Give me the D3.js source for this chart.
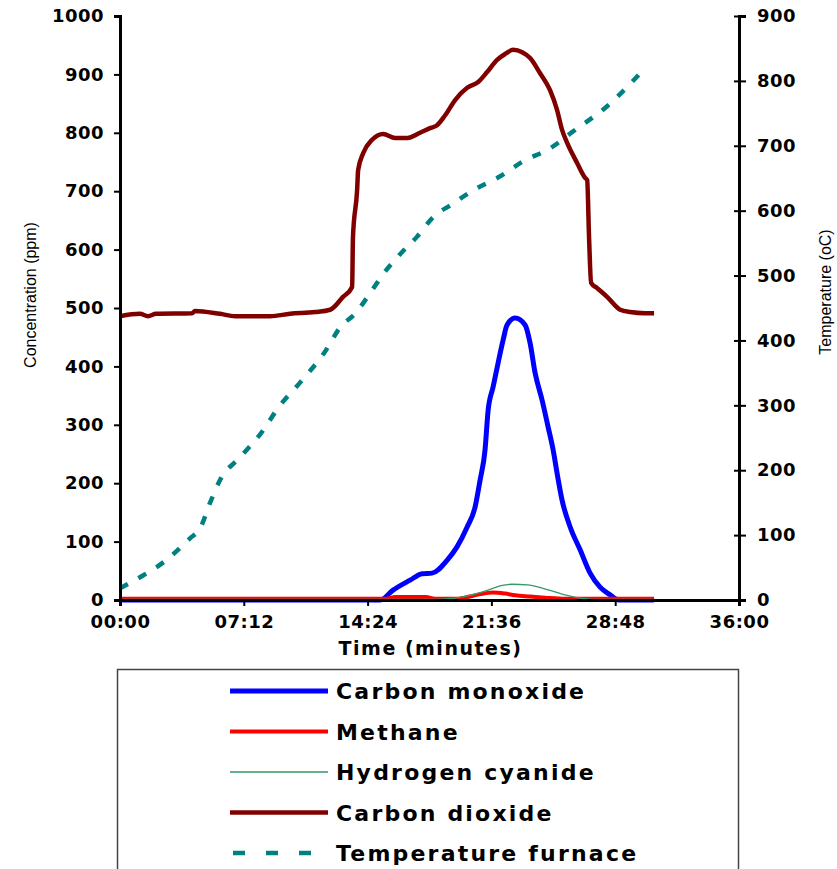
<!DOCTYPE html>
<html>
<head>
<meta charset="utf-8">
<script src="https://cdn.jsdelivr.net/npm/d3@7"></script>
<style>
  body { margin: 0; background: #fff; }
  svg { display: block; font-family: "Liberation Sans", Arial, sans-serif; }
</style>
</head>
<body>
<svg id="chart"></svg>
<script>
// ===== DATA (time in minutes) =====
const xTicks = [0, 7.2, 14.4, 21.6, 28.8, 36];
const leftTicks = [0, 100, 200, 300, 400, 500, 600, 700, 800, 900, 1000];
const rightTicks = [0, 100, 200, 300, 400, 500, 600, 700, 800, 900];

const seriesNames = ["Carbon monoxide", "Methane", "Hydrogen cyanide", "Carbon dioxide", "Temperature furnace"];

const coMinutes = [0, 15.13, 15.88, 16.87, 17.57, 18.15, 19.02, 19.6, 20.19, 20.65, 20.94, 21.23, 21.41, 21.7, 21.99, 22.28, 22.51, 22.98, 23.56, 23.85, 24.14, 24.55, 24.9, 25.19, 25.42, 25.71, 26.18, 26.76, 27.34, 27.92, 28.5, 29.0, 31.06];
const coPpm = [0, 0, 17, 34, 45, 46, 68, 91, 125, 159, 205, 257, 325, 365, 406, 445, 471, 483, 471, 440, 389, 342, 296, 257, 217, 171, 125, 86, 46, 22, 9, 0, 0];

const ch4Minutes = [0, 15.5, 16.0, 17.8, 18.3, 19.6, 20.36, 20.94, 21.7, 22.4, 22.98, 23.85, 24.72, 25.89, 31.06];
const ch4Ppm = [2, 2, 5, 5, 2, 2, 6, 10, 13, 11, 8, 6, 4, 2, 2];

const hcnMinutes = [0, 18.0, 19.4, 20.36, 21.41, 22.1, 22.8, 23.7, 24.6, 25.3, 26.0, 26.8, 27.6, 31.06];
const hcnPpm = [1, 1, 3, 8, 17, 24, 27, 26, 20, 14, 8, 3, 1, 1];

const co2Minutes = [0, 1.16, 1.63, 2.09, 4.19, 4.36, 5.82, 6.69, 8.73, 9.89, 11.34, 12.22, 12.97, 13.5, 13.55, 13.79, 13.85, 14.14, 14.66, 15.3, 16.0, 16.7, 17.45, 18.03, 18.44, 18.91, 19.49, 20.19, 20.83, 21.35, 21.93, 22.4, 22.86, 23.39, 23.85, 24.43, 25.01, 25.42, 25.71, 26.0, 26.59, 27.05, 27.17, 27.28, 27.4, 27.75, 28.33, 29.09, 29.67, 30.54, 31.06];
const co2Ppm = [486, 490, 486, 490, 491, 495, 490, 486, 486, 490, 493, 497, 519, 536, 622, 702, 736, 765, 788, 798, 791, 791, 800, 808, 813, 830, 856, 877, 887, 904, 925, 935, 942, 938, 928, 902, 873, 839, 805, 783, 748, 723, 719, 620, 543, 534, 519, 497, 493, 491, 491];

const tempMinutes = [0, 1.16, 2.62, 4.07, 4.65, 5.24, 5.82, 6.98, 8.14, 9.31, 10.47, 11.93, 12.8, 13.73, 14.37, 15.3, 16.29, 17.28, 18.21, 19.31, 20.65, 22.11, 23.44, 25.01, 26.29, 28.33, 30.54];
const tempC = [18, 35, 60, 95, 110, 150, 185, 220, 255, 300, 335, 383, 420, 443, 466, 502, 533, 560, 590, 610, 633, 653, 676, 696, 721, 761, 820];

function renderChart() {
  const width = 837;
  const height = 869;

  const svg = d3.select("#chart")
    .attr("width", width)
    .attr("height", height);

  const margin = { top: 16, right: 98, bottom: 269, left: 120 };
  const plotRight = width - margin.right;
  const plotBottom = height - margin.bottom;

  const xScale = d3.scaleLinear().domain([0, 36]).range([margin.left, plotRight]);
  const yLeft = d3.scaleLinear().domain([0, 1000]).range([plotBottom, margin.top]);
  const yRight = d3.scaleLinear().domain([0, 900]).range([plotBottom, margin.top]);

  const fmtTime = m => {
    const mm = Math.floor(m + 1e-6);
    const ss = Math.round((m - mm) * 60);
    return String(mm).padStart(2, "0") + ":" + String(ss).padStart(2, "0");
  };

  const boldFace = "'DejaVu Sans', Verdana, sans-serif";
  const tickFont = `bold 18px ${boldFace}`;

  // ===== SERIES =====
  const series = [
    { name: seriesNames[0], t: coMinutes, v: coPpm, y: yLeft, color: "#0000ff", w: 5, dash: null },
    { name: seriesNames[1], t: ch4Minutes, v: ch4Ppm, y: yLeft, color: "#ff0000", w: 4, dash: null },
    { name: seriesNames[2], t: hcnMinutes, v: hcnPpm, y: yLeft, color: "#339966", w: 1.3, dash: null },
    { name: seriesNames[3], t: co2Minutes, v: co2Ppm, y: yLeft, color: "#800000", w: 4.5, dash: null },
    { name: seriesNames[4], t: tempMinutes, v: tempC, y: yRight, color: "#008080", w: 4.5, dash: "9,12" }
  ];

  const lines = svg.append("g");

  series.forEach(s => {
    const pts = s.t.map((t, i) => [t, s.v[i]]);
    const line = d3.line()
      .x(d => xScale(d[0]))
      .y(d => s.y(d[1]))
      .curve(d3.curveMonotoneX);

    lines.append("path")
      .datum(pts)
      .attr("fill", "none")
      .attr("stroke", s.color)
      .attr("stroke-width", s.w)
      .attr("stroke-dasharray", s.dash)
      .attr("stroke-linejoin", "round")
      .attr("d", line);
  });

  // ===== AXES =====
  const xAxis = svg.append("g")
    .attr("transform", `translate(0,${plotBottom})`)
    .call(d3.axisBottom(xScale).tickValues(xTicks).tickFormat(fmtTime).tickSizeOuter(0).tickSize(6).tickPadding(9));

  const leftAxis = svg.append("g")
    .attr("transform", `translate(${margin.left},0)`)
    .call(d3.axisLeft(yLeft).tickValues(leftTicks).tickFormat(d3.format("d")).tickSizeOuter(0).tickSize(6).tickPadding(10));

  const rightAxis = svg.append("g")
    .attr("transform", `translate(${plotRight},0)`)
    .call(d3.axisRight(yRight).tickValues(rightTicks).tickSizeOuter(0).tickSize(7).tickPadding(11));

  rightAxis.selectAll(".tick line").attr("x1", -5);

  [xAxis, leftAxis, rightAxis].forEach(ax => {
    ax.select(".domain").attr("stroke", "#000").attr("stroke-width", 3);
    ax.selectAll(".tick line").attr("stroke", "#000").attr("stroke-width", 2);
    ax.selectAll(".tick text")
      .style("font", tickFont)
      .attr("letter-spacing", 0.5)
      .attr("fill", "#000");
  });

  // ===== AXIS TITLES =====
  svg.append("text")
    .attr("x", (margin.left + plotRight) / 2 + 1)
    .attr("y", 655)
    .attr("text-anchor", "middle")
    .style("font", `bold 19px ${boldFace}`)
    .attr("letter-spacing", 1.5)
    .text("Time (minutes)");

  svg.append("text")
    .attr("transform", "rotate(-90)")
    .attr("x", -295)
    .attr("y", 36)
    .attr("text-anchor", "middle")
    .attr("font-size", 16)
    .text("Concentration (ppm)");

  svg.append("text")
    .attr("transform", "rotate(-90)")
    .attr("x", -292)
    .attr("y", 831)
    .attr("text-anchor", "middle")
    .attr("font-size", 16)
    .text("Temperature (oC)");

  // ===== LEGEND =====
  const legend = svg.append("g")
    .attr("transform", "translate(117,669)");

  legend.append("rect")
    .attr("x", 0.5)
    .attr("y", 0.5)
    .attr("width", 621)
    .attr("height", 240)
    .attr("fill", "#fff")
    .attr("stroke", "#444")
    .attr("stroke-width", 1.5);

  series.forEach((s, i) => {
    const cy = 22 + i * 40.5;
    legend.append("line")
      .attr("x1", s.dash ? 116 : 113)
      .attr("x2", 211)
      .attr("y1", cy)
      .attr("y2", cy)
      .attr("stroke", s.color)
      .attr("stroke-width", s.w)
      .attr("stroke-dasharray", s.dash ? "12,21" : null);

    legend.append("text")
      .attr("x", 219)
      .attr("y", cy + 8)
      .style("font", `bold 22px ${boldFace}`)
      .attr("letter-spacing", 2.2)
      .text(s.name);
  });
}

renderChart();
</script>
</body>
</html>
